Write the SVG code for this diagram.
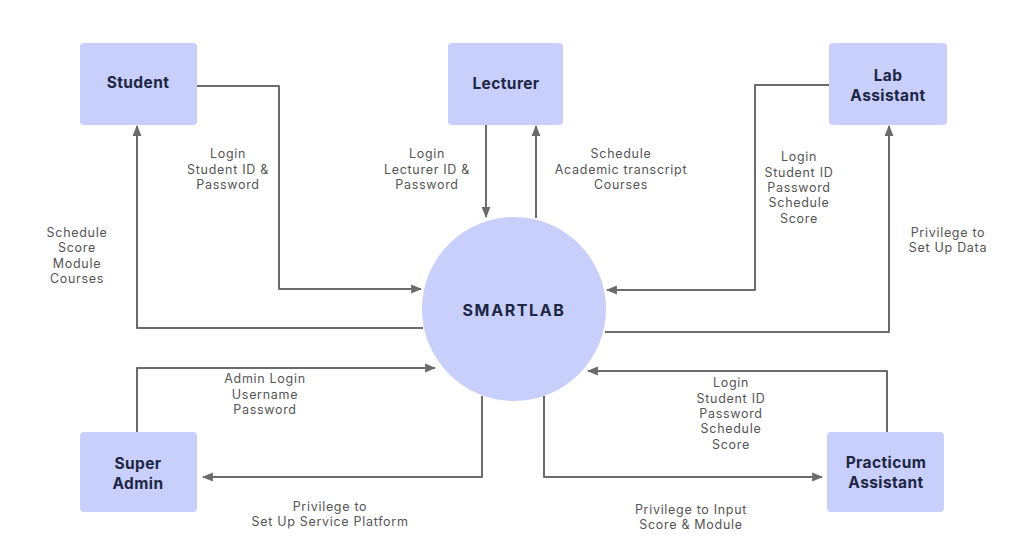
<svg xmlns="http://www.w3.org/2000/svg" width="1026" height="542" viewBox="0 0 1026 542">
  <defs>
    <style>
      .box { fill: #c8cffa; }
      .node-label { font-family: Inter, "Liberation Sans", sans-serif; font-weight: 700; font-size: 15.5px; fill: #1d2645; text-anchor: middle; letter-spacing: 0.4px; }
      .edge-label { font-family: Inter, "Liberation Sans", sans-serif; font-size: 12.5px; fill: #555555; text-anchor: middle; letter-spacing: 0.7px; }
      .flow { fill: none; stroke: #6b6b6b; stroke-width: 2; stroke-linejoin: round; }
    </style>
    <marker id="arrow" viewBox="0 0 10 10" refX="9" refY="5" markerWidth="5.5" markerHeight="5.5" orient="auto-start-reverse" markerUnits="strokeWidth">
      <path d="M0,1 L10,5 L0,9 z" fill="#6b6b6b"/>
    </marker>
  </defs>

  <rect width="1026" height="542" fill="#ffffff"/>

  <!-- external entities -->
  <g id="student">
    <rect class="box" x="80" y="43" width="117" height="82" rx="4"/>
    <text class="node-label" x="138" y="88">Student</text>
  </g>
  <g id="lecturer">
    <rect class="box" x="448" y="43" width="115" height="82" rx="4"/>
    <text class="node-label" x="506" y="89">Lecturer</text>
  </g>
  <g id="lab-assistant">
    <rect class="box" x="829" y="43" width="118" height="82" rx="4"/>
    <text class="node-label" x="888" y="81">Lab</text>
    <text class="node-label" x="888" y="101">Assistant</text>
  </g>
  <g id="super-admin">
    <rect class="box" x="80" y="432" width="117" height="80" rx="4"/>
    <text class="node-label" x="138" y="469">Super</text>
    <text class="node-label" x="138" y="489">Admin</text>
  </g>
  <g id="practicum-assistant">
    <rect class="box" x="827" y="432" width="117" height="80" rx="4"/>
    <text class="node-label" x="886" y="468">Practicum</text>
    <text class="node-label" x="886" y="488">Assistant</text>
  </g>

  <!-- central process -->
  <g id="smartlab">
    <circle class="box" cx="514" cy="309" r="92"/>
    <text class="node-label" x="514" y="316" style="font-size:16px; letter-spacing:1.6px">SMARTLAB</text>
  </g>

  <!-- data flows -->
  <g id="connectors">
    <path class="flow" d="M197,86 H279 V289 H421" marker-end="url(#arrow)"/>
    <path class="flow" d="M423,328 H137 V126" marker-end="url(#arrow)"/>
    <path class="flow" d="M486,125 V217" marker-end="url(#arrow)"/>
    <path class="flow" d="M536,218 V126" marker-end="url(#arrow)"/>
    <path class="flow" d="M829,85 H755 V290 H607" marker-end="url(#arrow)"/>
    <path class="flow" d="M605,332 H889 V126" marker-end="url(#arrow)"/>
    <path class="flow" d="M137,432 V368 H435" marker-end="url(#arrow)"/>
    <path class="flow" d="M482,396 V477 H203" marker-end="url(#arrow)"/>
    <path class="flow" d="M887,432 V371 H588" marker-end="url(#arrow)"/>
    <path class="flow" d="M544,396 V477 H822" marker-end="url(#arrow)"/>
  </g>

  <!-- flow labels -->
  <g id="labels">
    <text class="edge-label" x="228" y="158">Login</text>
    <text class="edge-label" x="228" y="174">Student ID &amp;</text>
    <text class="edge-label" x="228" y="189">Password</text>

    <text class="edge-label" x="77" y="237">Schedule</text>
    <text class="edge-label" x="77" y="252">Score</text>
    <text class="edge-label" x="77" y="268">Module</text>
    <text class="edge-label" x="77" y="283">Courses</text>

    <text class="edge-label" x="427" y="158">Login</text>
    <text class="edge-label" x="427" y="174">Lecturer ID &amp;</text>
    <text class="edge-label" x="427" y="189">Password</text>

    <text class="edge-label" x="621" y="158">Schedule</text>
    <text class="edge-label" x="621" y="174">Academic transcript</text>
    <text class="edge-label" x="621" y="189">Courses</text>

    <text class="edge-label" x="799" y="161">Login</text>
    <text class="edge-label" x="799" y="177">Student ID</text>
    <text class="edge-label" x="799" y="192">Password</text>
    <text class="edge-label" x="799" y="207">Schedule</text>
    <text class="edge-label" x="799" y="223">Score</text>

    <text class="edge-label" x="948" y="237">Privilege to</text>
    <text class="edge-label" x="948" y="252">Set Up Data</text>

    <text class="edge-label" x="265" y="383">Admin Login</text>
    <text class="edge-label" x="265" y="399">Username</text>
    <text class="edge-label" x="265" y="414">Password</text>

    <text class="edge-label" x="330" y="511">Privilege to</text>
    <text class="edge-label" x="330" y="526">Set Up Service Platform</text>

    <text class="edge-label" x="731" y="387">Login</text>
    <text class="edge-label" x="731" y="403">Student ID</text>
    <text class="edge-label" x="731" y="418">Password</text>
    <text class="edge-label" x="731" y="433">Schedule</text>
    <text class="edge-label" x="731" y="449">Score</text>

    <text class="edge-label" x="691" y="514">Privilege to Input</text>
    <text class="edge-label" x="691" y="529">Score &amp; Module</text>
  </g>
</svg>
